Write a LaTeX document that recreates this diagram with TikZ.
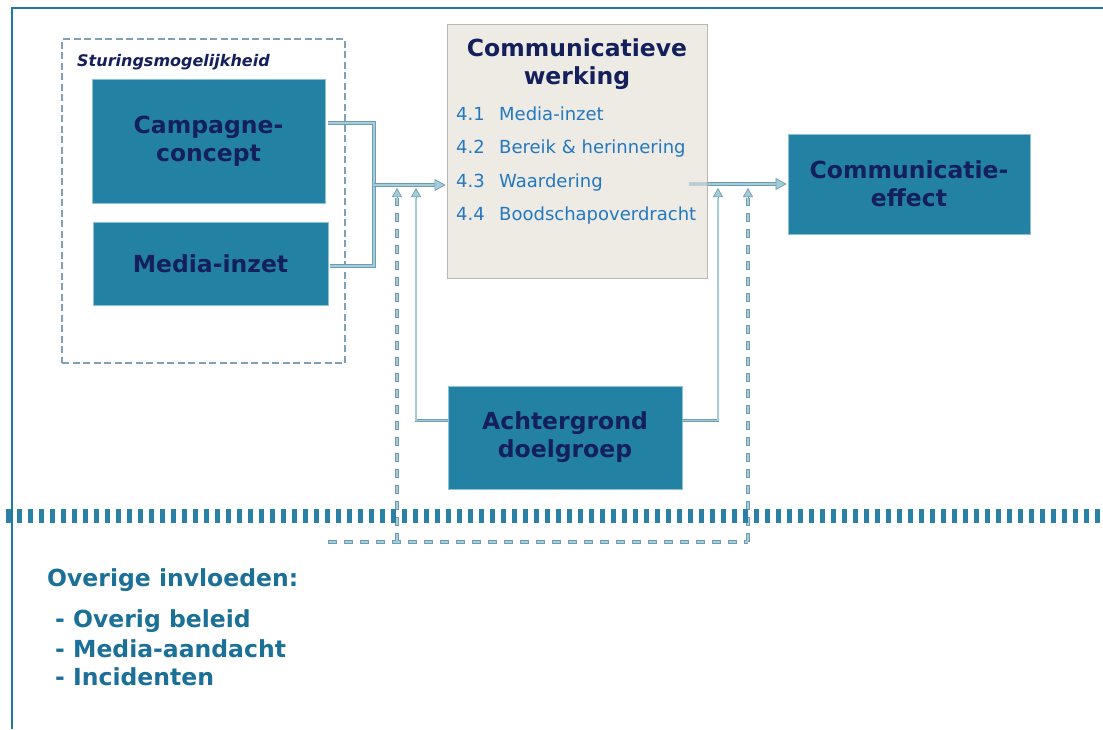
\documentclass[tikz,border=0pt]{standalone}
\usepackage{fontspec}
\setmainfont{DejaVu Sans}
\usetikzlibrary{arrows.meta,calc}
\definecolor{boxteal}{HTML}{2381A4}
\definecolor{boxedge}{HTML}{8CC2D3}
\definecolor{navy}{HTML}{14205C}
\definecolor{framec}{HTML}{1F7BA1}
\definecolor{beige}{HTML}{EEEBE4}
\definecolor{beigeline}{HTML}{B9B8B1}
\definecolor{itemblue}{HTML}{2378C2}
\definecolor{ovc}{HTML}{1B7098}
\definecolor{connin}{HTML}{A3CDD9}
\definecolor{connout}{HTML}{6E9DB3}
\definecolor{dashbox}{HTML}{7FA0B7}
\definecolor{sepc}{HTML}{2A80A5}
\tikzset{
  bluebox/.style={rectangle, fill=boxteal, draw=boxedge, line width=0.8, text=navy,
    font=\fontsize{23.5}{28}\selectfont\bfseries, align=center, inner sep=0},
  beigebox/.style={rectangle, fill=beige, draw=beigeline, line width=1, inner sep=0},
  itemtext/.style={text=itemblue, font=\fontsize{18}{20}\selectfont, inner sep=0, anchor=base west},
  ovtext/.style={text=ovc, font=\fontsize{23.5}{28}\selectfont\bfseries, inner sep=0, anchor=west},
  conn/.style={draw=connout, double=connin, line width=0.8, double distance=2.6},
  sconn/.style={draw=connout, double=connin, line width=0.6, double distance=1.3},
  dconnout/.style={draw=connout, line width=3.6, dash pattern=on 9 off 7},
  dconnin/.style={draw=connin, line width=2.2, dash pattern=on 7.6 off 8.4, dash phase=-0.7},
  bigtip/.style={line width=0.7, draw=connout, -{Triangle[length=11,width=12,fill=connin]}},
  smalltip/.style={line width=0.7, draw=connout, -{Triangle[length=9,width=10,fill=connin]}},
  dashedframe/.style={draw=dashbox, line width=1.5, dash pattern=on 7 off 3.5}
}
\begin{document}
\begin{tikzpicture}[x=1pt,y=-1pt]
\useasboundingbox (0,0) rectangle (1103,729);
\fill[white] (0,0) rectangle (1103,729);
% outer frame
\draw[framec, line width=2] (12,729) -- (12,8) -- (1103,8);
% control box
\node[dashedframe, rectangle, minimum width=283, minimum height=324, inner sep=0] (stur) at (203.5,201) {};
\node[anchor=west, inner sep=0, text=navy, font=\fontsize{16}{18}\selectfont\bfseries\itshape] (sturlbl) at (77,62) {Sturingsmogelijkheid};
\node[bluebox, minimum width=233, minimum height=124] (camp) at (208.5,141) {Campagne-\\concept};
\node[bluebox, minimum width=235, minimum height=83] (media) at (210.5,263.5) {Media-inzet};
% working box
\node[beigebox, minimum width=260, minimum height=254] (werk) at (577,151) {};
\node[text=navy, font=\fontsize{23.5}{28}\selectfont\bfseries, align=center, inner sep=0] (werktitle) at (577,64) {Communicatieve\\werking};
\node[itemtext] (n1) at (456,120) {4.1};
\node[itemtext] (t1) at (499,120) {Media-inzet};
\node[itemtext] (n2) at (456,153.5) {4.2};
\node[itemtext] (t2) at (499,153.5) {Bereik \& herinnering};
\node[itemtext] (n3) at (456,187) {4.3};
\node[itemtext] (t3) at (499,187) {Waardering};
\node[itemtext] (n4) at (456,220.5) {4.4};
\node[itemtext] (t4) at (499,220.5) {Boodschapoverdracht};
% effect and background
\node[bluebox, minimum width=242, minimum height=100] (effect) at (909,184) {Communicatie-\\effect};
\node[bluebox, minimum width=234, minimum height=103] (achter) at (565,437.5) {Achtergrond\\doelgroep};
% junctions
\coordinate (j1) at (374,185);
\coordinate (dl) at (397,542);
\coordinate (dr) at (748,542);
\coordinate (dstart) at (328,542);
\coordinate (dltop) at (397,198);
\coordinate (drtop) at (748,198);
% dashed influences
\foreach \s in {dconnout,dconnin}{
  \draw[\s] (dstart) -- (dr);
  \draw[\s] (dl) -- (dltop);
  \draw[\s] (dr) -- (drtop);
}
\draw[smalltip] (dltop) -- (397,188);
\draw[smalltip] (drtop) -- (748,188);
% inputs to working box
\draw[conn] ($(camp.east)+(3,-18)$) -| (j1);
\draw[conn] ($(media.east)+(2,2.5)$) -| (j1);
\draw[conn] (j1) -- ($(werk.west |- j1)+(-11,0)$);
\draw[bigtip] ($(werk.west |- j1)+(-11,0)$) -- ($(werk.west |- j1)+(-1,0)$);
% background influences
\draw[sconn] ($(achter.west)+(0,-17)$) -| (416,198);
\draw[smalltip] (416,198) -- (416,188);
\draw[sconn] ($(achter.east)+(0,-17)$) -| (718,198);
\draw[smalltip] (718,198) -- (718,188);
% output to effect
\draw[conn, opacity=0.35] (689,184) -- (werk.east |- 0,184);
\draw[conn] (werk.east |- 0,184) -- ($(effect.west)+(-10,0)$);
\draw[bigtip] ($(effect.west)+(-10,0)$) -- ($(effect.west)+(-1,0)$);
% separator
\draw[sepc, line width=14, dash pattern=on 5 off 6] (-5,516) -- (1110,516);
% other influences
\node[ovtext] (ov) at (47,580) {Overige invloeden:};
\node[ovtext] (ov1) at (55,621) {- Overig beleid};
\node[ovtext] (ov2) at (55,649) {- Media-aandacht};
\node[ovtext] (ov3) at (55,677) {- Incidenten};
\end{tikzpicture}
\end{document}
